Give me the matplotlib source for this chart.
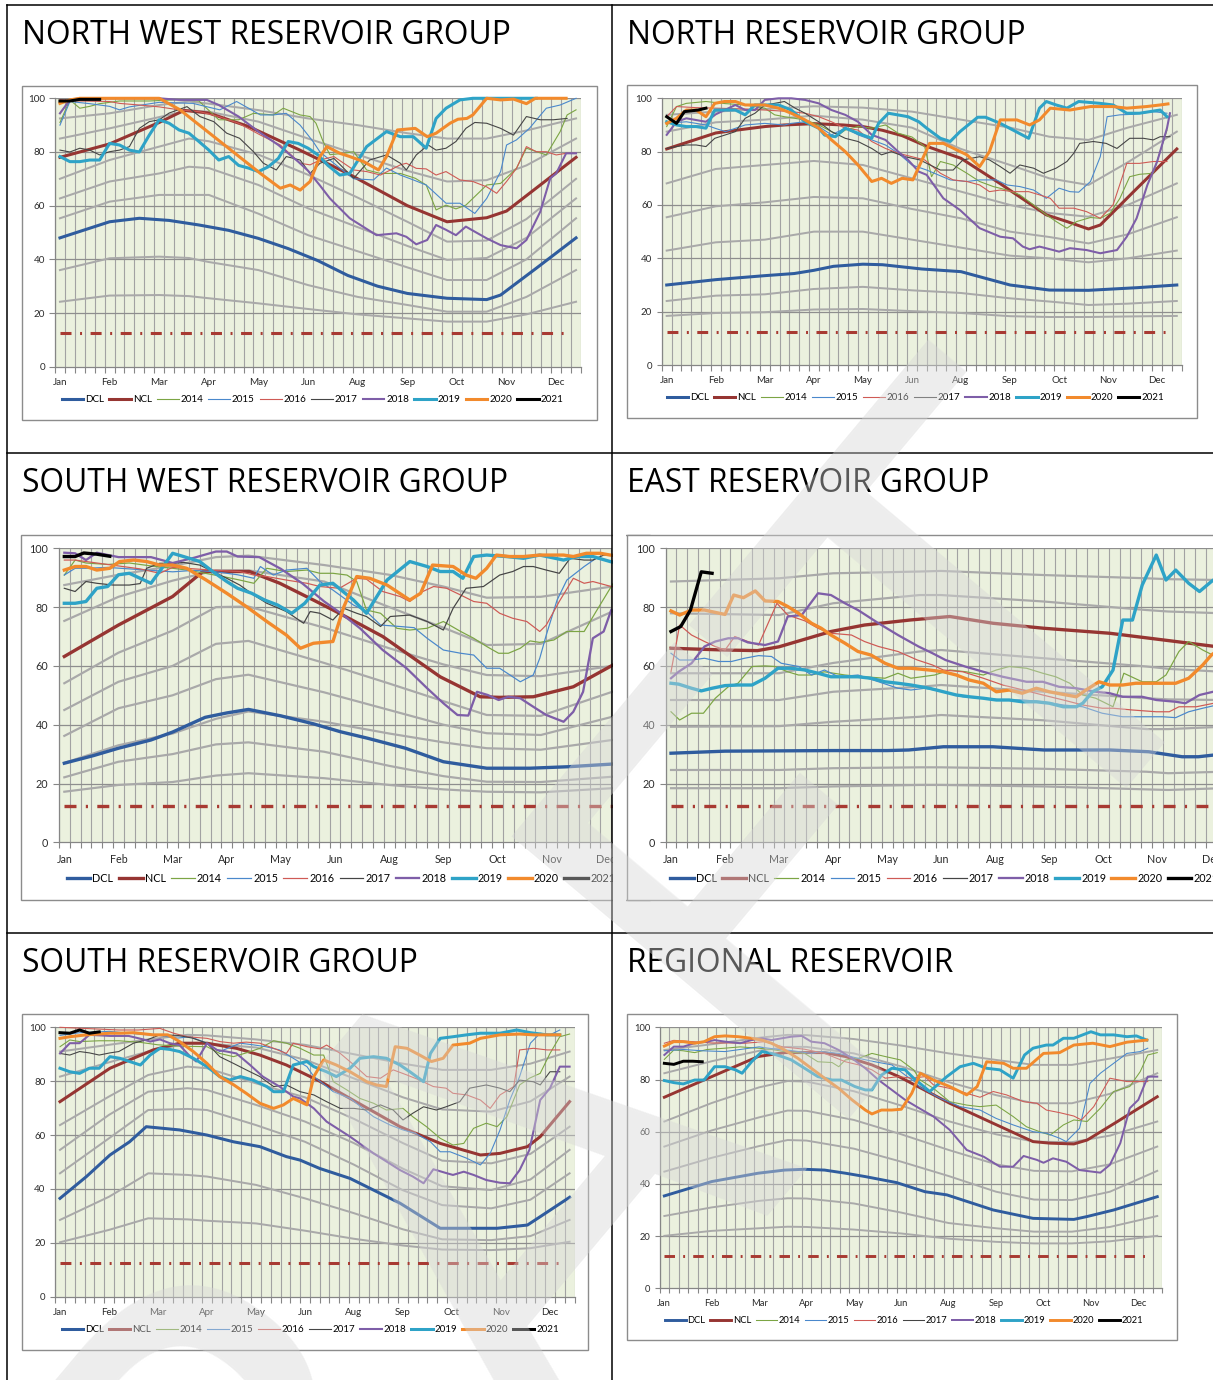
import matplotlib.pyplot as plt
from matplotlib.lines import Line2D
from matplotlib.patches import Rectangle

W, H = 1213, 1380

MONTHS = ['Jan', 'Feb', 'Mar', 'Apr', 'May', 'Jun', 'Aug', 'Sep', 'Oct', 'Nov', 'Dec']
MONTH_WEEKS = [0, 5, 10, 15, 20, 25, 30, 35, 40, 45, 50]
Y_TICKS = [0, 20, 40, 60, 80, 100]
EMERGENCY = 12.5
YEARS = ['2014', '2015', '2016', '2017', '2018', '2019', '2020', '2021']

# ---------------- North West ----------------
NW_GRAY_WEEKS = [0, 5, 10, 13, 15, 20, 25, 30, 35, 39, 43, 47, 52]
NW_GRAY = [
    [92.5, 94.4, 97.5, 98.8, 98, 95.6, 92.5, 90, 87, 85, 85, 88, 92.5],
    [85, 88.8, 93, 95.5, 95, 91.3, 85, 79, 73, 69, 69.5, 75, 85],
    [70, 77, 82, 85, 84, 79, 71.5, 63, 54, 46.6, 47, 55, 70],
    [62.7, 69, 72, 74.5, 74, 67.7, 59, 52, 45, 39.8, 40.5, 48, 62.7],
    [55.3, 61.5, 64, 64, 64, 57, 49, 43, 37, 32.3, 32.3, 40, 55.3],
    [36, 40.4, 41, 40.5, 39, 36, 30.4, 26, 23, 20.5, 20.5, 26, 36],
    [24.2, 26.5, 26.7, 26.3, 25.5, 23.6, 21.5, 19.5, 18, 16.8, 16.8, 19.5, 24.2],
]
NW_DCL = [(0, 48), (5, 54), (8, 55.3), (11, 54.5), (14, 52.8), (17, 50.8), (20, 47.8), (23, 44),
          (26, 39.5), (29, 34), (32, 30), (35, 27.3), (39, 25.5), (43, 25), (44.4, 26.7), (48, 36.7), (52, 48)]
NW_NCL = [(0, 78), (5, 83), (10, 91), (12.5, 95.5), (15, 94.5), (19, 89.5), (24, 81), (29, 72), (35, 60),
          (39, 54), (43, 55.5), (45, 58), (52, 78)]
NW_2014 = [(0, 91), (1, 99.4), (2, 96.3), (3, 97), (4, 98), (6, 99), (9, 99), (12, 99.5), (14, 99), (16, 92),
           (18, 92), (19.5, 94.4), (21.5, 93.8), (22.5, 96.3), (24.2, 93.8), (25.2, 93.2), (25.8, 90.7),
           (26.5, 84), (27.2, 79), (28.6, 79.5), (29.6, 80.1), (30.9, 73.3), (32.3, 72), (34.3, 72),
           (35.8, 70.2), (36.9, 67.7), (37.9, 58.4), (38.9, 60.2), (39.9, 58.8), (40.9, 60.2), (41.8, 63.4),
           (43, 67.7), (44.4, 68.3), (46, 73.9), (47, 81.4), (49, 78.9), (50.4, 87.6), (51.1, 93.8), (52, 95.7)]
NW_2015 = [(0, 90), (1, 98.8), (3, 98), (5, 97), (6, 95.7), (7, 96.8), (10, 98.5), (13.4, 98.1), (16.1, 95.7),
           (17.8, 98.8), (20.2, 93.8), (21.5, 93.8), (22.8, 94.4), (24.2, 90), (25.5, 83.9), (26.2, 80),
           (28.2, 74), (29.6, 70), (31.6, 69.6), (32.9, 74), (34.3, 71.4), (35.6, 69.6), (36.9, 67.7),
           (38.9, 60.9), (40.3, 60.9), (41.8, 57.1), (43, 62.7), (44.4, 72.7), (45, 82.6), (46, 84.5),
           (47.3, 88.8), (49, 96.3), (50.4, 97.5), (52, 100)]
NW_2016 = [(0, 99.5), (2, 99), (5, 98.8), (6, 98.1), (8, 97.5), (10, 96.8), (12, 95.7), (14.1, 95), (16, 93.2),
           (18, 90.7), (20.2, 86.3), (22.2, 82.6), (24.2, 75.8), (25.2, 75.2), (26.2, 77), (27.6, 78.3),
           (28.6, 75.8), (29.6, 73.3), (30.9, 72.7), (32.3, 71.4), (34.3, 75.2), (34.9, 75.8), (35.9, 73.9),
           (36.9, 73.7), (37.9, 71.4), (38.9, 72.7), (40.3, 69.6), (41.6, 69), (43, 67), (44, 64.6), (45, 69),
           (46, 73.9), (47, 82), (48, 80.1), (49, 80.1), (50, 78.9), (51, 79.5), (52, 79.5)]
NW_2017 = [(0, 80.7), (1, 80), (2, 81.4), (3, 80.7), (4, 78.9), (5, 80.1), (6, 80.7), (7, 82), (8, 88.8),
           (9, 91.3), (10, 92), (11, 94.5), (12.8, 96.9), (14.1, 93.2), (15.5, 91.3), (16.8, 87), (18.1, 85.1),
           (19.5, 80.1), (20.5, 75.8), (21.8, 73.3), (22.8, 78.3), (24.2, 77), (25.2, 72), (26.2, 75.8),
           (27.6, 77.6), (28.6, 73.9), (29.6, 70.2), (31.2, 77), (32.9, 78.9), (34.3, 75.8), (34.9, 73.3),
           (35.9, 78.9), (37.1, 82.6), (37.9, 80.7), (38.9, 81.4), (39.9, 83.9), (40.9, 88.8), (41.8, 91),
           (43, 90.7), (44.4, 88.8), (45.7, 86.3), (47, 93.2), (48.4, 92), (49.7, 92), (51.1, 92.5)]
NW_2018 = [(0, 94.4), (1, 99.4), (2, 100), (10, 100), (12, 99.4), (14.8, 99.4), (16, 97.5), (18, 93.2),
           (20, 87.6), (22, 82.6), (24, 76.4), (25, 73), (26.2, 67.5), (27.2, 62.7), (29.2, 55.3), (31.9, 49),
           (33.9, 49.7), (34.9, 48.4), (35.9, 45.6), (37, 47.2), (37.9, 52.8), (38.9, 51), (39.9, 49),
           (40.9, 52.2), (41.8, 50.3), (43, 47.8), (44.4, 45.3), (46, 44.1), (47, 47.2), (48.4, 57.8),
           (49.4, 70.2), (50, 72), (51, 79.5), (52, 79.5)]
NW_2019 = [(0, 78.3), (1, 76.4), (2, 76.4), (3, 77), (4, 77), (5, 83.2), (6, 82.6), (7, 80.7), (8, 80),
           (9, 86.3), (10, 92), (11, 90.7), (12, 88.2), (13, 87), (14, 83.9), (15, 80.7), (16, 77), (17, 78.3),
           (18, 75), (19, 74), (20, 72.7), (21, 74.5), (22, 77.6), (23, 83.9), (24, 83.2), (25, 81.4),
           (26, 78.9), (27, 75), (28.2, 71.4), (29.2, 72), (30.9, 82), (32.9, 87.6), (34.3, 85.7),
           (35.6, 85.7), (36.9, 81.4), (37.9, 92.5), (38.9, 96.3), (40.3, 99.4), (41.6, 100), (48, 100)]
NW_2020 = [(0, 98.1), (1, 99.4), (2, 100), (10, 100), (12.1, 95.7), (20.2, 72), (22.2, 66.5), (23.2, 67.7),
           (24.2, 65.8), (25.2, 69), (26.2, 78.3), (26.9, 82), (28.2, 79.5), (29.2, 78.3), (30.6, 76.4),
           (32.1, 73.3), (32.9, 78.3), (34, 88.2), (35.8, 88.8), (37, 85.7), (37.9, 87), (39.3, 90.7),
           (40.1, 92.2), (41, 92.5), (41.6, 93.8), (43, 100), (44.4, 99.4), (45.7, 99.7), (47, 98),
           (47.9, 100), (51, 100)]
NW_2021 = [(0, 99), (1, 99), (2, 99.6), (3, 99.6), (4, 99.6)]

# ---------------- North ----------------
NR_GRAY_WEEKS = [0, 5, 10, 15, 20, 25, 30, 35, 39, 43, 47, 52]
NR_GRAY = [
    [93.8, 95, 96, 97, 96.5, 95, 92, 89, 85.6, 84.4, 89, 93.8],
    [87.5, 91, 92, 93.5, 92, 89, 81, 75, 70, 67.5, 76, 87.5],
    [68.1, 73.5, 75, 76.5, 75, 70, 65, 60, 57, 55.6, 60, 68.1],
    [55.4, 59.5, 61, 63, 62.5, 58.5, 55, 50, 48, 45.6, 49, 55.4],
    [42.9, 46, 47, 50, 50, 47, 44, 41, 40, 38.5, 40, 42.9],
    [24, 26, 26.5, 28.5, 29.3, 28, 27, 25, 23.8, 22.5, 23, 24],
    [18.4, 19.5, 19.8, 20.8, 21, 20.2, 19.5, 18.3, 18, 18, 18.2, 18.4],
]
NR_DCL = [(0, 30), (5, 32), (10, 33.5), (13, 34.3), (15, 35.5), (17, 37), (20, 37.8), (22, 37.6), (26, 36),
          (30, 35), (33, 32), (35, 30), (39, 28.1), (43, 28), (48, 29), (52, 30)]
NR_NCL = [(0, 81), (2.5, 84), (5, 87), (7, 88), (10, 89.4), (12, 90), (15, 90.5), (18, 90), (20, 89.4),
          (22, 88), (24, 86), (26.5, 82), (30, 77.5), (34, 68), (38.7, 56.3), (40.8, 53.8), (43, 51),
          (44.2, 52.5), (47.6, 65), (52, 81)]
NR_2014 = [(0, 89.4), (1, 96.9), (2, 98.1), (4, 98.8), (6, 98), (8, 97.5), (10, 96.3), (11, 93.8), (12, 93.1),
           (14.1, 91.9), (15.5, 90), (16.8, 87.5), (17.5, 86.3), (18.2, 88.1), (19.5, 89.4), (20.9, 88.8),
           (22.3, 90), (23.6, 86.9), (25, 85.5), (26.3, 81.9), (27, 70.6), (27.9, 76.3), (29.2, 75),
           (30.6, 71.9), (31.9, 68.8), (33.3, 66.9), (34.7, 65.6), (36, 63.8), (37.4, 60), (38.7, 56.3),
           (39.7, 53.8), (40.8, 51.3), (41.8, 53.8), (43.2, 55.3), (44.2, 55), (45.2, 56.9), (46.2, 62.5),
           (47.2, 70.6), (48.2, 71.5), (49.6, 71.9), (51, 88.1)]
NR_2015 = [(0, 90.6), (2, 91.2), (4, 90), (4.9, 88.8), (6, 87.5), (8, 90), (10, 90.6), (12, 90), (12.7, 90.6),
           (14.1, 91.2), (15.5, 89.4), (16.8, 86.3), (18.2, 88.8), (19.5, 86.3), (20.9, 84.4), (22.3, 82.5),
           (23.6, 79.4), (25, 75), (26.5, 73.1), (28.9, 69.4), (30.6, 68.8), (31.9, 69.4), (33.6, 69.4),
           (34.7, 67.5), (36, 66.9), (37.4, 65.6), (38.7, 62.5), (40, 66.3), (41.1, 65), (42, 64.8),
           (43.2, 68.8), (44.2, 78.1), (44.9, 93.1), (46.2, 93.8), (47.6, 94), (49.6, 95), (51, 94.4)]
NR_2016 = [(0, 93.1), (1, 96.9), (3, 96.5), (5, 96.3), (8, 96), (10, 95.6), (12.7, 95), (14.1, 94.4),
           (15.5, 93.1), (16.8, 91.2), (18.2, 88.8), (19.5, 88.1), (20.9, 83.8), (22.3, 81.2), (23.6, 79.4),
           (25, 78.1), (26.3, 76.9), (27.9, 71.9), (29.2, 69.4), (30.6, 68.8), (31.9, 67.5), (32.9, 65),
           (34, 65.6), (35.3, 65), (36.9, 65), (38, 63.8), (39.1, 62.5), (40, 58.8), (41.5, 58.8),
           (42.8, 57.5), (44.2, 55), (45.5, 60), (46.9, 75.6), (48.2, 75.6), (49.6, 76.3), (51, 76.3)]
NR_2017 = [(0, 81.2), (1, 81.9), (2, 82.5), (3, 82.5), (4, 81.9), (4.9, 85), (6, 86.3), (7, 87.5), (8, 92.5),
           (9, 94.4), (10, 97.5), (11, 98.1), (12, 98.8), (13.1, 96.3), (14.1, 94.4), (15.5, 91.2),
           (16.8, 87.5), (18.2, 85), (19.5, 83.8), (20.9, 81.2), (21.9, 78.8), (22.9, 80), (24.3, 78.1),
           (25.8, 76.9), (27.9, 73.1), (29.2, 73.1), (30.2, 76.9), (31.9, 78.1), (32.9, 76.9), (34, 74.4),
           (35, 71.9), (36, 75), (37.4, 73.8), (38.4, 71.9), (39.7, 73.8), (40.8, 76.3), (41.5, 79.4),
           (42.1, 83.1), (43.5, 83.8), (44.8, 83.1), (45.9, 81.2), (47.2, 85), (48.6, 85), (49.6, 84.4),
           (50.3, 85.6), (51.3, 85.6)]
NR_2018 = [(0, 86.3), (1, 91.2), (2, 92.5), (4, 91.2), (5, 94), (7, 97.5), (8, 95.6), (9, 95.6), (10, 99.4),
           (11.4, 100), (12.7, 100), (14.1, 99.4), (15.5, 98.1), (16.8, 95.6), (18.2, 93.8), (19.5, 91.2),
           (20.9, 86.3), (22.3, 84.4), (23.6, 80), (24.6, 76.9), (25.7, 72.5), (26.5, 71.3), (28.2, 62.5),
           (29.9, 58.1), (31.9, 51.3), (34, 48.1), (35.3, 47.5), (36.3, 44.4), (37, 43.4), (38, 44.4),
           (39.4, 43.1), (40, 42.5), (41.1, 43.8), (42.8, 43.1), (44.2, 41.9), (45.9, 43.1), (46.9, 48.1),
           (47.9, 55), (49, 67.5), (50, 76.3), (51, 88.8), (51.3, 94.4)]
NR_2019 = [(0, 91.2), (1, 90), (2, 89.4), (3, 89.4), (4, 88.8), (4.9, 95.6), (6, 95.6), (7, 95.6), (8, 93.8),
           (9, 97.5), (10, 97.5), (11.4, 97.5), (12.7, 95.6), (14.1, 91.2), (15.5, 88.8), (16.1, 86.2),
           (17.2, 85.6), (18.2, 88.8), (19.5, 86.9), (20.9, 85), (21.6, 90.6), (22.6, 94.4), (24.6, 93.1),
           (25.7, 91.2), (26.5, 88.8), (27.9, 85), (28.9, 83.8), (29.9, 87.5), (31.7, 92.9), (32.5, 92.9),
           (34, 90.6), (35.3, 88.1), (36.9, 85), (38, 96.3), (38.7, 98.8), (39.7, 97.5), (40.8, 96.3),
           (42, 98.8), (44.2, 98.1), (45.5, 97.5), (46.9, 94.4), (48.2, 94.4), (50.3, 95.6), (51, 93.1)]
NR_2020 = [(0, 90.6), (1, 92.5), (2, 95.6), (3, 95.6), (4, 93.1), (4.9, 98.1), (5.9, 98.8), (7, 98.8),
           (8, 97.5), (10, 97.5), (11.4, 96.3), (12.7, 94.4), (14.1, 91.9), (15.5, 88.8), (16.8, 84.4),
           (18.2, 80), (19.5, 75), (20.9, 68.8), (21.9, 70), (22.9, 68.1), (24, 70), (25.1, 69.4),
           (26.8, 83.1), (28.2, 83.1), (30.6, 78.8), (31.9, 74.4), (32.9, 80), (34, 91.9), (35.7, 91.9),
           (37, 90), (38, 91.9), (39.1, 96.3), (41.1, 95.6), (43.2, 96.9), (45.5, 96.9), (46.9, 96.3),
           (48.9, 96.9), (50.3, 97.5), (51.1, 97.9)]
NR_2021 = [(0, 93.1), (1, 90.6), (1.8, 95), (2.5, 95.3), (3.2, 95.6), (4, 96.3)]

# ---------------- South West ----------------
SW_GRAY_WEEKS = [0, 5, 10, 14, 17, 24, 30, 35, 39, 44, 50.6]
SW_GRAY = [
    [87.5, 91, 94, 97, 97.5, 94.3, 91, 87, 83.2, 83.5, 87],
    [75.3, 83.5, 89, 92.5, 92.5, 88.7, 80, 73, 67.1, 67.5, 78.5],
    [54.1, 64.5, 72, 80, 80.2, 73, 66, 60.5, 56.9, 56.5, 60],
    [45, 54.6, 60, 67.5, 68.5, 61, 54, 48, 43.3, 43, 51.2],
    [36.2, 45.6, 50, 55.5, 57, 51, 45, 40, 37.1, 36.5, 42.7],
    [27, 33, 37, 42, 44.5, 41, 37, 34, 32, 31.5, 34.8],
    [22.1, 27.4, 30, 33.3, 34, 30.8, 26, 22.5, 20.6, 20.5, 22.3],
    [17.2, 19.5, 20.5, 22.7, 23.5, 21.8, 19.5, 18, 17.2, 17, 18.4],
]
SW_DCL = [(0, 26.9), (2.7, 29.5), (5, 32), (8, 34.8), (10, 37.5), (13, 42.5), (15, 44), (17, 45.2), (20, 43),
          (23, 40.3), (25.5, 37.6), (28, 35.4), (31.5, 32), (35, 27.4), (39, 25.2), (43, 25.2),
          (46.5, 25.7), (51, 26.7)]
SW_NCL = [(0, 63.2), (5, 73.9), (10, 83.6), (12.8, 92.1), (17.1, 92.1), (19.9, 88.1), (23, 82.4),
          (25.4, 77.9), (29.4, 70), (34.7, 56.3), (38.4, 49.5), (40.2, 49.3), (43.3, 49.5), (47, 52.9),
          (51, 61)]
SW_2014 = [(0, 90.9), (1, 96), (2, 95), (4, 94.5), (6, 95), (8, 94), (10, 93.2), (11.3, 92.6), (13, 91.5),
           (14.5, 90.5), (16.2, 89.2), (17.5, 88.1), (18.7, 93.2), (20.5, 92.1), (22.4, 92.6), (23.6, 91.5),
           (24.8, 91.5), (26.1, 90.9), (27, 88.7), (27.9, 79), (29.2, 77.9), (30.7, 72.8), (31.9, 72.2),
           (33.5, 72.8), (35, 75.1), (36.6, 71.7), (37.8, 69.4), (39, 66.6), (40.1, 64.3), (41, 64.3),
           (42.1, 66), (43, 68.5), (43.9, 68), (45.2, 68.8), (46.4, 71.7), (48, 71.7), (49.1, 78.5),
           (50.5, 87), (51, 90)]
SW_2015 = [(0, 90.9), (1, 93.2), (2, 93.2), (4, 93.5), (6, 93), (8, 92.5), (10, 92), (12, 92.5), (14, 92),
           (16, 91), (17.5, 89.8), (18.1, 93.8), (19.3, 90.9), (20.5, 92.6), (22.4, 93.2), (23.6, 88.7),
           (24.8, 85.8), (26.7, 80.7), (27.9, 78.5), (29.2, 73.9), (31, 73.4), (32.3, 73), (33.5, 69.4),
           (35, 65.4), (36.6, 64.3), (37.8, 63.7), (39, 59.2), (40.2, 59.2), (41.4, 56.3), (42.1, 54.6),
           (43.3, 56.9), (43.9, 62.6), (44.5, 70.5), (45.5, 82.4), (46.4, 89.2), (48, 93.8), (49.1, 96.6),
           (50.5, 95.5), (51, 95.8)]
SW_2016 = [(0, 96), (1, 96), (3, 95), (5, 94), (7, 93), (8.8, 91.5), (10, 93.5), (12, 93), (14, 92.5),
           (16.2, 92.1), (17.5, 90.9), (18.7, 90.4), (20.5, 89.2), (22.4, 88.1), (23.6, 87), (25.4, 86.4),
           (27, 89.8), (27.9, 89.5), (29.4, 85.3), (31, 83.6), (31.9, 81.9), (33.1, 85.3), (34.1, 87),
           (35.3, 86.4), (36.6, 84.1), (37.8, 81.9), (39, 81.3), (40.2, 77.9), (41.4, 76.2), (42.7, 75.1),
           (43.9, 71.7), (44.5, 73.9), (45.7, 81.9), (47, 89.8), (48, 88.1), (48.8, 88.7), (50.5, 87),
           (51, 87)]
SW_2017 = [(0, 86.4), (1, 85.3), (2, 88.7), (3, 88.1), (4.5, 87.5), (6, 87.5), (7, 88), (7.6, 93.2),
           (8.8, 94.9), (10.1, 94.9), (11, 95.2), (12.5, 94.3), (13.5, 92.5), (15, 89.8), (16.2, 87.5),
           (17.5, 84.1), (18.7, 81.3), (20.5, 78.5), (22.1, 74.5), (22.7, 78.5), (23.6, 77.9), (24.8, 75.6),
           (25.8, 79.6), (27, 77.9), (27.9, 76.8), (29.2, 73.4), (30.1, 76.8), (31.9, 77.3), (33.5, 75.1),
           (35, 72.2), (35.9, 79.6), (37.1, 86.4), (38.7, 87), (40.2, 90.9), (41.4, 92.1), (42.4, 93.8),
           (43.3, 93.8), (44.5, 92.6), (45.7, 91.5), (46.7, 96.6), (48, 96), (48.8, 96), (49.8, 97.7),
           (51, 97.7)]
SW_2018 = [(0, 98.5), (1, 98.3), (2, 96), (3, 98.5), (5, 97), (8, 97), (10, 95), (12, 96.8), (14, 98.9),
           (15, 98.9), (16, 97.2), (18, 97), (20, 93), (22, 88), (24, 81.9), (25.5, 78), (27.3, 72.8),
           (29.4, 65.4), (31.6, 59.2), (33.5, 52.4), (35, 47.3), (36.3, 43.3), (37.3, 43.1), (38.1, 51.2),
           (39.1, 50.1), (40.1, 48.4), (41, 49.5), (42.1, 49), (43.3, 46.1), (44.5, 43.3), (46.1, 41),
           (47, 44.4), (47.9, 51.2), (48.8, 69.4), (49.8, 71.7), (50.5, 79)]
SW_2019 = [(0, 81.3), (1, 81.3), (2, 81.9), (3, 86.4), (4, 87), (5, 91), (6, 91.5), (7, 89.8), (8, 88.1),
           (9, 93.2), (10, 98.3), (11, 97.2), (12.5, 95.5), (13.7, 92.1), (15, 88.7), (16, 86.4), (17.3, 84.7),
           (18.5, 82.4), (19.7, 80.7), (21, 77.9), (22.2, 81.3), (23.6, 87.5), (24.8, 88.1), (26.7, 82.4),
           (27.9, 77.9), (29.8, 89.2), (31.9, 95.5), (33.5, 93.8), (34.7, 92.1), (35.9, 92.1), (36.8, 89.8),
           (37.8, 97.2), (39, 97.7), (40.8, 97.2), (42.4, 96.6), (43.9, 97.7), (46.1, 96), (47.3, 97.2),
           (48.8, 97.2), (50.4, 95.5), (51, 95)]
SW_2020 = [(0, 92.6), (1, 93.8), (2, 93.8), (3, 92.6), (4.2, 93.2), (5.1, 95.5), (6.4, 96), (7.6, 95.5),
           (8.8, 94.3), (10, 94.3), (11.3, 93.2), (13.1, 89.2), (15, 84.7), (16.8, 80.2), (18.7, 75.1),
           (20.5, 70.5), (21.8, 66), (23, 67.7), (24.8, 68.3), (25.8, 80), (27, 90.4), (28.2, 89.8),
           (29.8, 87.5), (31.9, 82.4), (32.9, 84.7), (34, 94.3), (35.9, 93.8), (37.1, 90.9), (38, 89.8),
           (39, 93.2), (39.9, 97.7), (41.1, 97.2), (42.4, 97.2), (43.9, 97.7), (46.1, 97.7), (47, 97.2),
           (48.2, 98.3), (49.5, 98.3), (50.4, 97.7), (51, 97.5)]
SW_2021 = [(0, 97.2), (1, 97.2), (1.8, 98.4), (3, 98), (4.2, 97.3)]

# ---------------- East ----------------
EA_GRAY_WEEKS = [0, 10, 15, 23, 25, 34.5, 44, 46, 51]
EA_GRAY = [
    [88.7, 89.8, 91.5, 92.1, 92.3, 90.9, 89.8, 89.5, 89.2],
    [77.9, 77.3, 81.3, 84.1, 84.1, 81.9, 79, 78.5, 77.9],
    [57.5, 57.5, 61, 64.9, 65.4, 62.6, 59.8, 59, 58],
    [48.4, 48.4, 51.2, 52.9, 53.5, 51.2, 49, 48.6, 48.4],
    [39.3, 39.5, 41, 42.7, 43.3, 41.5, 38.5, 38.5, 39.3],
    [24.6, 24.6, 25.2, 25.5, 25.5, 25, 24, 23.5, 24],
    [18.4, 18.4, 19, 19.5, 19.5, 19, 18, 17.8, 18.4],
]
EA_DCL = [(0, 30.3), (5, 31), (10, 31.1), (15, 31.2), (20, 31.2), (22, 31.4), (25.2, 32.5), (29.8, 32.5),
          (34.5, 31.4), (40.6, 31.4), (44.2, 30.8), (47.3, 29.1), (48.8, 29.1), (51, 30)]
EA_NCL = [(0, 66), (5, 65.4), (8, 65.2), (10, 66.5), (14.8, 71.7), (17.9, 73.9), (22.1, 75.6), (25.8, 76.8),
          (29.8, 74.5), (34.5, 72.8), (40.6, 71.1), (46.7, 68.3), (51, 66.3)]
EA_2014 = [(0, 44.4), (0.8, 41.6), (1.9, 43.9), (3, 43.9), (4.1, 49), (5.3, 52.9), (6.2, 54.1), (7.5, 59.8),
           (8.7, 60), (9.6, 59.8), (10.8, 58), (11.8, 56.9), (13, 56.9), (14.2, 58), (16.1, 56.9),
           (17.9, 56.3), (19.8, 55.8), (21, 57.5), (22.2, 55.8), (23.2, 56.3), (24.4, 56.9), (25.8, 58.6),
           (27.3, 58), (28.9, 56.9), (30.1, 58.6), (31.3, 59.8), (32.9, 59.2), (34.4, 57.5), (35.6, 56.3),
           (36.9, 54.1), (38.1, 50.1), (39.3, 49), (40.9, 46.1), (41.9, 57.5), (43.6, 54.6), (44.9, 54.6),
           (45.8, 56.9), (47, 64.9), (47.9, 68.3), (49.2, 65.4), (50.5, 63)]
EA_2015 = [(0, 64.3), (0.8, 62), (1.9, 62), (3.1, 62.6), (4.4, 61.5), (5.6, 61.5), (6.8, 62.6), (8.1, 63.5),
           (9.3, 63.2), (10.2, 60.9), (11.8, 59.8), (13, 56.9), (14.2, 58.6), (15.5, 56.3), (17.3, 56.9),
           (19.2, 54.6), (21, 52.4), (22.2, 51.8), (23.5, 52.4), (25.2, 51.2), (27, 49.5), (28.9, 49),
           (30.7, 48.4), (32.6, 48.4), (34.4, 47.8), (36.3, 46.7), (38.1, 46.1), (39.9, 43.9), (41.8, 42.7),
           (43.6, 42.7), (45.5, 42.7), (46.7, 42.4), (47.9, 44.4), (49.2, 45.6), (50.5, 46.7)]
EA_2016 = [(0, 58), (0.8, 73.9), (1.9, 70.5), (3.1, 68.3), (4.1, 66.6), (5, 65.4), (5.9, 70), (7.1, 68.3),
           (8.1, 67.1), (9.8, 81.3), (10.8, 77.3), (12.4, 75.3), (13.6, 72.8), (14.8, 71.1), (16.7, 70.5),
           (17.9, 68.3), (19.2, 66.6), (21, 64.9), (22.8, 62), (24.2, 60.3), (25.2, 58.6), (27, 58),
           (28.9, 55.8), (30.7, 53.5), (32.6, 51.8), (34.4, 50.1), (36.3, 48.4), (38.1, 46.7), (39.9, 45.6),
           (40.9, 45.6), (42.7, 45), (44.9, 44.4), (46.1, 44.4), (47, 46.1), (48.6, 46.1), (50.5, 47.5)]
EA_2017 = []
EA_2018 = [(0, 55.8), (0.7, 58), (1.9, 60.9), (3.1, 66.6), (4.1, 68.3), (5.3, 69.4), (6.2, 69.4), (7.1, 68),
           (8.7, 67.1), (9.9, 68.3), (10.8, 76.8), (12.1, 77.3), (13.6, 84.7), (14.8, 84.1), (16.1, 81.3),
           (17.3, 79), (19.2, 74.5), (21, 70.5), (22.9, 66.6), (24.2, 64.3), (25.4, 62), (27.2, 59.8),
           (28.9, 58), (30.7, 56.3), (32.9, 54.6), (34.4, 54.6), (35.9, 52.9), (37.5, 52.4), (39.3, 51.2),
           (40.6, 50.7), (41.8, 49.5), (43.6, 49.5), (44.9, 48.4), (46.7, 47.8), (47.6, 47.3), (48.9, 50.1),
           (50.5, 51.5)]
EA_2019 = [(0, 54.1), (0.7, 53.8), (1.9, 52.4), (2.8, 51.5), (3.8, 52.4), (5, 53.3), (6.2, 53.5), (7.5, 53.5),
           (8.7, 55.8), (9.9, 59.2), (11.1, 59.2), (12.4, 58.6), (13.6, 57.5), (14.8, 56.3), (16.1, 56.3),
           (17.3, 56.3), (18.5, 55.8), (19.8, 54.6), (21, 54.1), (22.2, 53.5), (23.9, 52.4), (25.2, 51.2),
           (26.4, 50.1), (27.6, 49.5), (28.9, 49), (30.1, 48.4), (31.3, 48.4), (32.5, 47.8), (33.8, 47.8),
           (35, 47.3), (36.3, 46.1), (37.5, 46.1), (38.1, 47.3), (39, 51.2), (39.9, 52.9), (40.9, 58.6),
           (41.8, 75.6), (42.7, 75.6), (43.6, 87.5), (44.9, 97.7), (45.8, 89.2), (46.7, 92.6), (47.9, 88.1),
           (48.9, 85.3), (50, 88.7), (50.5, 90)]
EA_2020 = [(0, 78.7), (0.8, 77.3), (1.9, 79), (3.1, 79), (4.1, 78.2), (5, 77.5), (5.8, 84.1), (6.7, 83.2),
           (7.8, 85.5), (8.7, 82.1), (9.9, 81.9), (10.8, 80.2), (11.8, 77.9), (13, 74.5), (13.9, 72.8),
           (14.8, 70.5), (16.1, 67.7), (17.3, 64.9), (18.5, 63.7), (19.8, 60.9), (21, 59.2), (22.2, 59.2),
           (23.9, 58.6), (25.2, 58), (26.4, 56.9), (27.6, 55.2), (28.9, 54.1), (30.1, 51.2), (31.3, 51.8),
           (32.5, 50.7), (33.8, 52.4), (35, 51.2), (36.3, 50.3), (37.5, 49.5), (38.4, 51.8), (39.6, 54.6),
           (40.6, 53.5), (41.8, 53.5), (43, 54.1), (44.3, 54.1), (45.5, 54.1), (46.7, 54.1), (47.9, 55.8),
           (49.2, 60.3), (50, 63.7), (50.5, 65)]
EA_2021 = [(0, 71.7), (0.9, 73.4), (1.8, 79), (2.8, 92), (3.8, 91.5)]

# ---------------- South ----------------
SO_GRAY_WEEKS = [0, 5, 9, 13, 15, 20, 25, 30, 35, 39, 44, 48, 52]
SO_GRAY = [
    [91, 93.5, 95.5, 97.2, 97, 95.5, 93.5, 90, 86.5, 84.2, 84.2, 86.5, 91],
    [81.7, 87, 91, 94, 94, 92.5, 88, 81, 74, 69.5, 68.7, 72.5, 81.7],
    [63.7, 74.3, 82.3, 85.4, 84.8, 79.2, 74, 66, 57, 50.5, 49.5, 53, 63.1],
    [54.5, 67.5, 76.1, 77.4, 76.7, 71.2, 65, 57, 47.5, 41, 39.6, 43.5, 54.5],
    [45.8, 58.8, 69.3, 69.7, 69.3, 63.7, 57.5, 49, 39.5, 34, 32.8, 36, 45.8],
    [28.5, 37.1, 45.8, 45.2, 44.6, 41.5, 36.5, 31, 25, 21.3, 21, 22.5, 28.5],
    [20.2, 24.8, 29.1, 28.7, 28.2, 27.2, 24.5, 21.5, 19, 17.5, 17.3, 18, 20.4],
]
SO_DCL = [(0, 36.5), (2.7, 44.6), (5.1, 52.6), (7.1, 57.5), (8.8, 63.1), (12.2, 61.9), (15, 60), (17.7, 57.5),
          (20.4, 55.7), (23.1, 52), (24.5, 50.7), (26.5, 47.6), (29.6, 43.9), (34.7, 34.7), (38.8, 25.4),
          (44.6, 25.4), (47.7, 26.6), (49, 29.7), (52, 36.9)]
SO_NCL = [(0, 72.4), (5.1, 84.8), (9.5, 91.6), (12.2, 94.1), (15, 94.1), (18, 92.2), (20.4, 89.7), (23.1, 86),
          (26.5, 80), (29.6, 73.6), (34.7, 63.1), (38.8, 56.9), (42.9, 52.6), (44.9, 53.2), (47.7, 55.7),
          (49, 59.4), (52, 72.4)]
SO_2014 = [(0, 92.8), (1, 95.3), (2, 94.7), (4, 95), (6, 95), (8, 94.5), (10, 93.5), (12.2, 93), (15, 92.8),
           (16.3, 90.3), (17.7, 89.1), (19, 90.5), (20.4, 92.2), (21.8, 95), (23.1, 94.1), (24.5, 92.2),
           (25.9, 89.7), (26.9, 89.7), (27.9, 79.8), (29.3, 76.7), (30.6, 73.6), (32, 71.8), (33.3, 69.3),
           (35, 69.9), (36, 66.8), (37.4, 63.1), (38.8, 58.8), (40.1, 56.3), (41.2, 56.9), (42.2, 62.5),
           (43.5, 64.4), (44.6, 63.1), (45.6, 66.8), (46.9, 78.6), (47.9, 81.1), (49, 82.9), (50, 90.3),
           (51, 96.5), (52, 97.5)]
SO_2015 = [(0, 97), (2, 98), (5, 98.5), (8, 97.5), (10, 97), (12, 96), (13.3, 96.5), (15, 94.1), (16.3, 91),
           (17.3, 92.5), (18.4, 94.1), (19.7, 93.5), (21, 92.8), (22.4, 91.6), (23.8, 88.5), (25.2, 85.4),
           (25.9, 81.7), (27.9, 76.1), (29.6, 73.6), (32, 66.8), (33.7, 63.7), (35, 61.9), (36.3, 60.6),
           (37.8, 57.5), (38.8, 53.8), (39.8, 53.8), (41.5, 51.4), (42.9, 48.9), (43.9, 53.2), (44.9, 61.9),
           (45.9, 73), (46.9, 81.7), (48, 94.1), (49, 97.8), (50, 97.2), (51, 99)]
SO_2016 = [(0, 100), (3, 99.5), (6, 99), (8, 99), (10.2, 99.6), (11.6, 97.8), (13, 96.5), (15, 95.9),
           (16.3, 94.7), (17.7, 94.1), (19, 94.5), (20.4, 94.1), (21.8, 92.2), (23.1, 90.3), (23.8, 94.1),
           (25.2, 92.8), (26.5, 92), (27.2, 93.4), (28.6, 90.3), (30, 86), (31.3, 81.7), (32.7, 81.1),
           (34, 84.2), (35.4, 82.3), (36.7, 80.4), (38.1, 78), (39.4, 77.4), (40.1, 75.5), (41.5, 74.9),
           (42.9, 73), (43.9, 69.9), (44.9, 74.9), (46.3, 78), (46.9, 91.6), (48.3, 92.2), (49.7, 91.6),
           (51, 91.6)]
SO_2017 = [(0, 90.3), (1, 89.7), (2, 91), (3, 90.5), (4, 89.7), (5.1, 90.5), (6, 91), (7.5, 94.1), (9, 95.5),
           (10.2, 97.2), (12, 97), (13.5, 96), (15, 94.1), (16.3, 89.1), (17.7, 86.6), (19, 84.2), (20.4, 81.7),
           (21.8, 78), (23.1, 78.6), (24.5, 76.1), (25.9, 74.9), (27.2, 72.4), (28.6, 69.9), (30, 69.9),
           (31.3, 69.3), (32.7, 71.2), (34, 69.3), (35, 65.6), (36, 68.1), (37.1, 70.5), (38.4, 69.3),
           (39.4, 70.5), (40.8, 72.4), (41.8, 77.4), (43.5, 78.6), (44.9, 77.4), (45.9, 76.1), (46.9, 80.4),
           (48.3, 79.8), (49, 78.6), (50, 83.5), (51, 83.5)]
SO_2018 = [(0, 90.3), (1, 94.1), (2, 94.1), (3, 97.2), (5.1, 96.8), (7, 96.8), (8.5, 95.5), (9.2, 94.7),
           (10.2, 95.5), (11.2, 94.1), (12.2, 93.4), (13.3, 89.1), (13.9, 87.3), (15, 94.1), (16, 91.6),
           (17, 91), (18, 90.3), (19.4, 86), (20.7, 81.7), (22.4, 78), (23.8, 74.3), (24.5, 73.6),
           (25.9, 69.9), (27.2, 65), (29.6, 59.4), (32, 53.2), (34.7, 47), (36, 44.6), (37.1, 42.1),
           (38.1, 47.3), (39.5, 45.8), (40.1, 45.2), (41.2, 46.4), (42.2, 45.2), (43.5, 43.3), (44.9, 42.3),
           (45.9, 42.1), (46.9, 47), (47.9, 54.5), (49, 73), (50, 77.4), (51, 85.4), (52, 85.4)]
SO_2019 = [(0, 84.8), (1, 83.5), (2, 82.9), (3, 84.8), (4, 84.8), (5.1, 89.1), (6.1, 88.5), (7.1, 87.3),
           (8.2, 86), (9.2, 89.7), (10.2, 92.2), (11.2, 91.8), (12.2, 91), (13.6, 88.5), (15, 85.4),
           (16.3, 81.7), (17.3, 80.4), (18.4, 81.7), (19.7, 80.4), (21.1, 78), (21.8, 76.1), (22.8, 76.1),
           (23.8, 86), (25.2, 87.3), (25.9, 85.4), (27.2, 83.5), (28.2, 81.7), (29.6, 84.8), (30.6, 88.5),
           (32, 89.1), (33.3, 88.5), (34.7, 86), (35.7, 83.5), (37.1, 79.8), (37.8, 90.3), (38.8, 95.9),
           (40.1, 96.5), (41.5, 97.2), (42.9, 97.8), (44.9, 97.8), (46.6, 99), (48, 98), (49.7, 97.2),
           (51, 97.2)]
SO_2020 = [(0, 95.9), (1, 96.5), (2.7, 97.2), (5.1, 97.8), (6.1, 97.8), (7.5, 98), (9.5, 97.2), (11, 97.2),
           (12.2, 94.7), (13.6, 91), (15, 86.6), (16.3, 81.7), (17.7, 78.7), (19, 75.5), (20.4, 71.8),
           (21.8, 69.9), (22.8, 71.2), (23.8, 73.6), (25.2, 71.2), (25.9, 81.7), (26.9, 87.9), (28.2, 86),
           (29.6, 83.5), (31.3, 79.8), (32.3, 78.6), (33.3, 78), (34.2, 92.8), (35.4, 92.2), (36.7, 89.7),
           (37.9, 87.3), (39.1, 88.5), (40.1, 93.4), (41.8, 94.1), (42.9, 95.9), (44.9, 97.2), (46.9, 97.5),
           (48.3, 97.2), (51, 97.2)]
SO_2021 = [(0, 98), (1, 97.8), (2, 99), (3, 97.8), (4, 98.3)]

# ---------------- Regional ----------------
RG_GRAY_WEEKS = [0, 5, 10, 13, 15, 20, 25, 30, 35, 39, 43, 47, 52]
RG_GRAY = [
    [91.3, 93.5, 96, 97.1, 97, 95.5, 93, 90, 87.5, 85.6, 85.6, 88, 91.3],
    [82.4, 87, 91, 92.5, 92.5, 90, 85, 79, 74, 70.9, 70.9, 74.5, 82.4],
    [63.9, 71, 77, 79.4, 79.2, 75.5, 70, 64, 59, 56.2, 56, 58.5, 63.9],
    [54.3, 60.5, 65.5, 68.1, 68, 64.5, 59, 53, 47.5, 45, 44.8, 47.5, 54.3],
    [44.7, 50, 54.5, 56.8, 56.6, 53.5, 48.5, 43, 37, 34, 33.8, 37, 45],
    [27.7, 31, 33.5, 34.5, 34.4, 32.5, 29, 25, 23, 21.7, 21.7, 23.5, 27.7],
    [20.1, 22, 23, 23.6, 23.5, 22.5, 21, 19, 17.8, 17.2, 17.2, 18, 20.1],
]
RG_DCL = [(0, 35.4), (5, 40.9), (9.9, 44.1), (12.7, 45.3), (14.8, 45.6), (16.9, 45.3), (19.1, 44.1),
          (21.2, 42.8), (24.5, 40.5), (27.5, 37), (29.8, 35.8), (34.7, 30), (38.9, 26.8), (43.2, 26.4),
          (44.6, 27.5), (47.4, 30), (52, 35.1)]
RG_NCL = [(0, 73.2), (5, 81.1), (9.9, 88.8), (12.7, 90.3), (16.9, 90.3), (19.1, 88.8), (21.9, 85.6),
          (24.8, 81), (30.1, 70.9), (34.7, 63.2), (38.9, 56.2), (40.7, 55.6), (43.2, 55.3), (44.6, 56.8),
          (47.8, 63.9), (52, 73.4)]
RG_2014 = [(0, 87.7), (1, 91.3), (2, 91), (3.2, 90.3), (4.5, 91.5), (6.4, 92), (8, 92.5), (9.9, 92),
           (11.3, 91.5), (12.7, 90.7), (14.8, 90), (16.2, 86.8), (17.7, 86.5), (18.4, 84.9), (19.1, 87.5),
           (20.5, 88.1), (21.9, 90), (23.3, 88.8), (24.9, 87.5), (26.3, 83.7), (27, 79.8), (28.4, 76.6),
           (30.1, 71.5), (31.9, 70.2), (33.3, 69.6), (35, 70.2), (36.8, 65.8), (38.2, 61.9), (39.6, 60),
           (40.7, 58.7), (42.1, 62.6), (43.2, 64.5), (44.6, 63.9), (46, 69), (47.4, 75.4), (49.1, 77.3),
           (50.2, 83), (51, 89.4), (52, 90.3)]
RG_2015 = [(0, 91), (2, 91.5), (4, 91), (6.4, 90.7), (8, 91.5), (10, 92.5), (12, 91.5), (13.4, 91.1),
           (15.5, 90), (16.6, 90.7), (18.4, 90), (20, 88.5), (22.2, 86.8), (24, 85.6), (25.4, 81.7),
           (26.4, 79.2), (27, 77), (29.1, 72.8), (31.2, 69.6), (33.3, 68.3), (35, 65.1), (36.8, 62.6),
           (38.9, 60), (40.3, 59.4), (41.7, 57.5), (42.4, 56.2), (43.8, 61.3), (44.9, 78.5), (46, 82.4),
           (47.4, 86.2), (48.8, 90), (50.2, 90.7), (51, 92)]
RG_2016 = [(0, 93.9), (1, 95), (3, 94.5), (5, 94), (7, 94), (8.5, 93.9), (10.6, 94.5), (12.5, 92.5),
           (14.8, 91.6), (16.9, 90), (19.1, 86.8), (20.5, 85.6), (21.9, 83.7), (23.3, 80.5), (24.7, 81.1),
           (26.1, 80.5), (27.5, 81.1), (28.4, 77.9), (30.1, 76.6), (31.9, 74.7), (33.3, 73.2), (34.7, 75.4),
           (36.1, 74.1), (37.9, 71.5), (39.3, 70.9), (40.3, 68.3), (41.7, 67.3), (43.2, 66), (44, 64.5),
           (45.3, 69.6), (47, 80.5), (48.8, 79.2), (50.2, 79.2), (51, 79.2)]
RG_2017 = []
RG_2018 = [(0, 89.4), (1, 92.6), (2, 92.6), (3.2, 93.9), (4.5, 94.5), (5.3, 95.1), (6.4, 94.5), (8, 93.9),
           (9.2, 95.1), (10.3, 95.8), (11.3, 95.1), (12.4, 95.8), (13.4, 96.4), (14.5, 96.7), (15.5, 94.5),
           (16.9, 93.9), (18.4, 91.3), (19.8, 88.1), (21.2, 84.3), (22.6, 79.8), (24, 76), (25.4, 72.2),
           (26.6, 69.6), (28.4, 65.8), (30.1, 60.7), (31.9, 53), (33.7, 50.4), (35.4, 46.6), (36.8, 46.6),
           (37.9, 50.7), (39.3, 49.2), (40, 48.1), (41, 49.8), (42.4, 48.5), (43.8, 45.3), (46, 44.3),
           (47, 47.3), (48.1, 55.6), (49.1, 69), (50, 72.2), (51, 81.1), (52, 81.1)]
RG_2019 = [(0, 79.6), (1, 78.8), (2, 78.3), (3.2, 79.8), (4.2, 79.8), (5.3, 84.9), (6.4, 84.9), (7.5, 83.7),
           (8.2, 82.4), (9.2, 86.8), (10.3, 90.7), (11.3, 90), (12.4, 88.8), (13.4, 87.5), (14.8, 84.3),
           (16.2, 81.1), (17.7, 79.8), (18.7, 79.8), (20.1, 77.3), (21.2, 76), (21.9, 76), (22.9, 81.7),
           (24, 84.3), (25.4, 83.7), (26.3, 80.5), (28, 75.4), (29.8, 81.1), (31.2, 84.9), (32.6, 86.2),
           (34, 84.3), (35.4, 83.7), (36.8, 80.5), (38, 89.4), (38.9, 92), (40.3, 93.2), (41, 93.2),
           (42.1, 95.8), (43.2, 95.8), (45, 98.3), (46, 97.1), (47.4, 97.1), (48.8, 96.4), (49.8, 96.7),
           (50.9, 95.1)]
RG_2020 = [(0, 92.8), (1, 94.5), (2, 94.5), (3.2, 93.9), (4.2, 94.5), (5.3, 96.4), (6.4, 96.7), (7.8, 96.4),
           (9.2, 95.8), (10.3, 95.1), (11.3, 93.9), (12.7, 91.3), (14.1, 88.1), (15.5, 84.3), (16.9, 80.5),
           (18.4, 76.6), (19.8, 72.2), (21.2, 68.3), (21.9, 66.8), (22.9, 68.3), (24, 68.3), (25, 68.6),
           (26.1, 74.7), (27, 82.4), (28.4, 79.8), (30.1, 77.3), (31.9, 74.1), (33, 77.3), (34, 86.8),
           (35.8, 86.2), (36.8, 84.3), (38.2, 84.3), (40, 90), (41.7, 90.3), (43.2, 93.2), (45.2, 93.9),
           (47, 92.6), (48.8, 94.3), (50.9, 95.1)]
RG_2021 = [(0, 86.2), (1, 85.8), (2, 87), (3, 87), (4, 86.8)]

# line colours and widths (points, before per-chart scaling)
GRAY = '#A9A9A9'
DCL_STYLE = ('#2F5C9E', 2.2)
NCL_STYLE = ('#963532', 2.2)
YEAR_STYLE = {
    '2014': ('#7CA544', 0.8),
    '2015': ('#4A88CC', 0.8),
    '2016': ('#CF5A55', 0.8),
    '2017': ('#454545', 0.8),
    '2018': ('#7E5EA8', 1.5),
    '2019': ('#2EA3C7', 2.2),
    '2020': ('#F28A2C', 2.2),
    '2021': ('#000000', 2.2),
}

# each chart image was pasted at its own scale; 'scale' is px-per-week / 9.92
PANELS = [
    dict(title='NORTH WEST RESERVOIR GROUP', title_at=(22, 35), box=(21.7, 85.5, 596.5, 419.5),
         plot=(55, 98.3, 581, 366.7), xmax=52.5, legend_at=(61.7, 400), scale=1.0,
         gray=(NW_GRAY_WEEKS, NW_GRAY), dcl=NW_DCL, ncl=NW_NCL,
         years=[NW_2014, NW_2015, NW_2016, NW_2017, NW_2018, NW_2019, NW_2020, NW_2021]),
    dict(title='NORTH RESERVOIR GROUP', title_at=(627, 35), box=(626.7, 85, 1196.7, 418),
         plot=(661.8, 98.3, 1181.7, 365), xmax=52.5, legend_at=(666.7, 398), scale=0.99,
         gray=(NR_GRAY_WEEKS, NR_GRAY), dcl=NR_DCL, ncl=NR_NCL,
         years=[NR_2014, NR_2015, NR_2016, NR_2017, NR_2018, NR_2019, NR_2020, NR_2021]),
    dict(title='SOUTH WEST RESERVOIR GROUP', title_at=(22, 483), box=(21, 535, 650, 900),
         plot=(58.9, 548.3, 612, 842.3), xmax=50.57, legend_at=(66.7, 878), scale=1.09,
         gray=(SW_GRAY_WEEKS, SW_GRAY), dcl=SW_DCL, ncl=SW_NCL,
         years=[SW_2014, SW_2015, SW_2016, SW_2017, SW_2018, SW_2019, SW_2020, SW_2021]),
    dict(title='EAST RESERVOIR GROUP', title_at=(627, 483), box=(626.7, 535, 1260, 900),
         plot=(665.6, 548.3, 1213, 842.3), xmax=50.15, legend_at=(670, 878), scale=1.09,
         gray=(EA_GRAY_WEEKS, EA_GRAY), dcl=EA_DCL, ncl=EA_NCL,
         years=[EA_2014, EA_2015, EA_2016, EA_2017, EA_2018, EA_2019, EA_2020, EA_2021]),
    dict(title='SOUTH RESERVOIR GROUP', title_at=(22, 963), box=(21.7, 1014, 588.3, 1350),
         plot=(55.1, 1027.3, 574.5, 1296.7), xmax=52.5, legend_at=(61.7, 1330), scale=0.99,
         gray=(SO_GRAY_WEEKS, SO_GRAY), dcl=SO_DCL, ncl=SO_NCL,
         years=[SO_2014, SO_2015, SO_2016, SO_2017, SO_2018, SO_2019, SO_2020, SO_2021]),
    dict(title='REGIONAL RESERVOIR', title_at=(627, 963), box=(626.7, 1014, 1176.7, 1340),
         plot=(659.6, 1027.3, 1162, 1288.3), xmax=52.5, legend_at=(665, 1320.7), scale=0.955,
         gray=(RG_GRAY_WEEKS, RG_GRAY), dcl=RG_DCL, ncl=RG_NCL,
         years=[RG_2014, RG_2015, RG_2016, RG_2017, RG_2018, RG_2019, RG_2020, RG_2021]),
]

TICK_FONT = ['Lato', 'DejaVu Sans']
TITLE_FONT = ['Open Sans', 'DejaVu Sans']
BASE_FONT = 7.1


def unzip(points):
    return [p[0] for p in points], [p[1] for p in points]


fig = plt.figure(figsize=(W / 100, H / 100), dpi=100)

# page layer: titles and chart frames, drawn in pixel coordinates
page = fig.add_axes([0, 0, 1, 1], zorder=-2)
page.set_xlim(0, W)
page.set_ylim(H, 0)
page.axis('off')

# size the titles so the widest one spans its measured width
probe = page.text(0, 0, PANELS[0]['title'], fontsize=20, family=TITLE_FONT)
fig.canvas.draw()
title_size = 20 * 489 / probe.get_window_extent().width
probe.remove()


def draw_panel(p):
    s = p['scale']
    page.text(p['title_at'][0], p['title_at'][1], p['title'], fontsize=title_size,
              family=TITLE_FONT, va='center', ha='left', color='black')
    bx0, by0, bx1, by1 = p['box']
    page.add_patch(Rectangle((bx0, by0), bx1 - bx0, by1 - by0, facecolor='white',
                             edgecolor='#8C8C8C', lw=1.0))

    left, top, right, bottom = p['plot']
    ax = fig.add_axes([left / W, 1 - bottom / H, (right - left) / W, (bottom - top) / H])
    ax.set_xlim(-0.5, p['xmax'])
    ax.set_ylim(0, 100)
    ax.set_facecolor('#EBF1DE')

    edges = [k - 0.5 for k in range(54) if k - 0.5 <= p['xmax'] + 1e-6]
    for xe in edges:
        ax.axvline(xe, color='#A2A2A2', lw=0.8, zorder=1)
    for v in Y_TICKS[1:]:
        ax.axhline(v, color='#8E8E8E', lw=0.9, zorder=1)

    weeks, curves = p['gray']
    for c in curves:
        ax.plot(weeks, c, color=GRAY, lw=1.45 * s, zorder=2, clip_on=False, solid_joinstyle='round')

    ax.plot([0, 51], [EMERGENCY, EMERGENCY], color='#A83A32', lw=2.2 * s,
            ls=(0, (3.6, 2.8, 0.65, 2.8)), zorder=3, clip_on=False)

    x, y = unzip(p['dcl'])
    ax.plot(x, y, color=DCL_STYLE[0], lw=DCL_STYLE[1] * s, zorder=4, clip_on=False,
            solid_joinstyle='round')
    x, y = unzip(p['ncl'])
    ax.plot(x, y, color=NCL_STYLE[0], lw=NCL_STYLE[1] * s, zorder=4, clip_on=False,
            solid_joinstyle='round')
    for i, (year, series) in enumerate(zip(YEARS, p['years'])):
        if not series:
            continue
        color, lw = YEAR_STYLE[year]
        x, y = unzip(series)
        ax.plot(x, y, color=color, lw=lw * s, zorder=5 + i, clip_on=False, solid_joinstyle='round')

    for side in ('top', 'right'):
        ax.spines[side].set_visible(False)
    for side in ('left', 'bottom'):
        ax.spines[side].set_color('#868686')
        ax.spines[side].set_linewidth(0.9)

    fs = BASE_FONT * s
    ax.set_yticks(Y_TICKS)
    ax.set_yticklabels([str(v) for v in Y_TICKS], family=TICK_FONT)
    ax.set_xticks(MONTH_WEEKS)
    ax.set_xticklabels(MONTHS, family=TICK_FONT)
    ax.set_xticks(edges, minor=True)
    ax.tick_params(axis='y', length=4 * s, width=0.8, color='#868686', pad=3 * s,
                   labelsize=fs, labelcolor='#2B2B2B')
    ax.tick_params(axis='x', which='major', length=0, pad=8 * s, labelsize=fs, labelcolor='#2B2B2B')
    ax.tick_params(axis='x', which='minor', length=4 * s, width=0.8, color='#868686')

    handles = [Line2D([], [], color=DCL_STYLE[0], lw=DCL_STYLE[1] * s),
               Line2D([], [], color=NCL_STYLE[0], lw=NCL_STYLE[1] * s)]
    handles += [Line2D([], [], color=YEAR_STYLE[y][0], lw=YEAR_STYLE[y][1] * s) for y in YEARS]
    lx, ly = p['legend_at']
    ax.legend(handles, ['DCL', 'NCL'] + YEARS, loc='center left',
              bbox_to_anchor=(lx / W, 1 - ly / H), bbox_transform=fig.transFigure,
              ncol=10, frameon=False, prop={'family': TICK_FONT, 'size': fs},
              handlelength=2.2, handletextpad=0.2, columnspacing=0.5,
              borderpad=0, borderaxespad=0)


for panel in PANELS:
    draw_panel(panel)

# top layer: table rules, cropping strip and watermark
over = fig.add_axes([0, 0, 1, 1], zorder=10)
over.set_xlim(0, W)
over.set_ylim(H, 0)
over.axis('off')
over.add_patch(Rectangle((612.5, 520), 13.5, 400, facecolor='white', edgecolor='none'))
over.text(480, 1229, 'DRAFT', fontsize=435, rotation=50, color='#D6D6D6', alpha=0.42,
          ha='center', va='center', family=['DejaVu Sans'])
for xv in (7, 612):
    over.plot([xv, xv], [5, H], color='black', lw=1.1)
for yv in (5, 453, 933):
    over.plot([7, W], [yv, yv], color='black', lw=1.1)

fig.savefig('out.png', dpi=100)
